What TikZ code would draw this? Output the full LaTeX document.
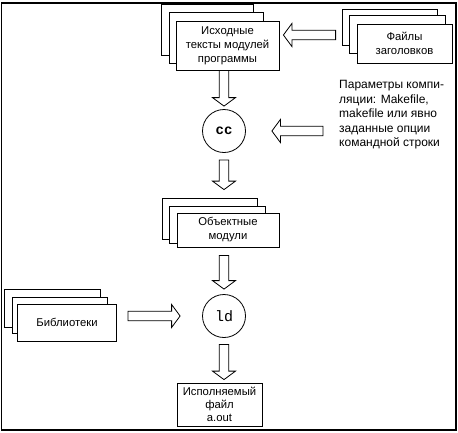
\documentclass[tikz,border=0pt]{standalone}
\usepackage{fontspec}
\setmainfont{Liberation Sans}
\setmonofont{Liberation Mono}
\usetikzlibrary{calc}

\tikzset{
	sheet/.style={draw, fill=white, line width=0.8pt},
	box/.style={sheet, align=center, inner sep=0pt, font=\fontsize{11.3}{14}\selectfont},
	prog/.style={draw, circle, line width=0.8pt, minimum size=43pt, inner sep=0pt, font=\ttfamily\fontsize{15}{15}\selectfont},
	fat/.style={draw, fill=white, line width=0.8pt, line join=miter}
}

% hollow block arrows: downwards and sideways
\newcommand{\fatdown}[2]{%
	\draw[fat] let \p1=#1, \p2=#2 in
		(\x1-4.75pt,\y1) -- (\x1-4.75pt,\y2+8.5pt) -- (\x1-11.5pt,\y2+8.5pt) -- (\x1,\y2)
		-- (\x1+11.5pt,\y2+8.5pt) -- (\x1+4.75pt,\y2+8.5pt) -- (\x1+4.75pt,\y1) -- cycle;}
\newcommand{\fatside}[2]{%
	\draw[fat] let \p1=#1, \p2=#2, \n1={8.5*(\x2-\x1)/abs(\x2-\x1)} in
		(\x1,\y1-4.75pt) -- ({\x2-(\n1)},\y1-4.75pt) -- ({\x2-(\n1)},\y1-11.5pt) -- (\x2,\y1)
		-- ({\x2-(\n1)},\y1+11.5pt) -- ({\x2-(\n1)},\y1+4.75pt) -- (\x1,\y1+4.75pt) -- cycle;}

\begin{document}
\begin{tikzpicture}[x=1pt, y=-1pt]
	\useasboundingbox (0,0) rectangle (458,432);
	\draw[line width=1.2pt] (1.5,3) rectangle (456,430);
	
	% back sheets of the stacks
	\foreach \a/\b/\c/\d in {161/4/253/55, 169/12/263/63, 342/9/437/45, 349/15/445/53,
		162/198/257/239, 169/206/265/243, 4/289/100/327, 12/297/107/333}
	{
		\draw[sheet] (\a,\b) rectangle (\c,\d);
	}
	
	\node[box, minimum width=103pt, minimum height=49pt] (src) at (227.5,45.5) {Исходные\\тексты модулей\\программы};
	\node[box, minimum width=95pt, minimum height=39pt] (hdr) at (404.5,43.5) {Файлы\\заголовков};
	\node[prog, font=\ttfamily\bfseries\fontsize{14}{14}\selectfont] (cc) at (224,131) {cc};
	\node[box, minimum width=102pt, minimum height=34pt] (obj) at (228,230) {Объектные\\модули};
	\node[prog] (ld) at (224,316) {ld};
	\node[box, minimum width=99pt, minimum height=37pt] (lib) at (67,322.5) {Библиотеки};
	\node[box, minimum width=85pt, minimum height=43pt, font=\fontsize{11.3}{13}\selectfont] (exe) at (219.5,404.5) {Исполняемый\\файл\\a.out};
	\node[anchor=west, align=left, inner sep=0pt, font=\fontsize{12}{14.5}\selectfont] (par) at (339,115)
		{Параметры компи-\\ляции: Makefile,\\makefile или явно\\заданные опции\\командной строки};
	
	\fatdown{(cc.north |- src.south)}{($(cc.north)+(0,-3)$)}
	\fatdown{($(cc.south)+(0,7)$)}{($(cc.south |- obj.north)+(0,-23)$)}
	\fatdown{($(cc.south |- obj.south)+(0,8)$)}{($(ld.north)+(0,-5)$)}
	\fatdown{($(ld.south)+(0,6.5)$)}{($(ld.south |- exe.north)+(0,-3)$)}
	\fatside{($(hdr.west)+(-21,-8.5)$)}{($(src.east)+(4,-10.5)$)}
	\fatside{($(par.west |- cc.east)+(-16,0)$)}{($(cc.east)+(26,0)$)}
	\fatside{($(lib.east |- ld.west)+(11,0)$)}{($(ld.west)+(-22,0)$)}
\end{tikzpicture}
\end{document}
